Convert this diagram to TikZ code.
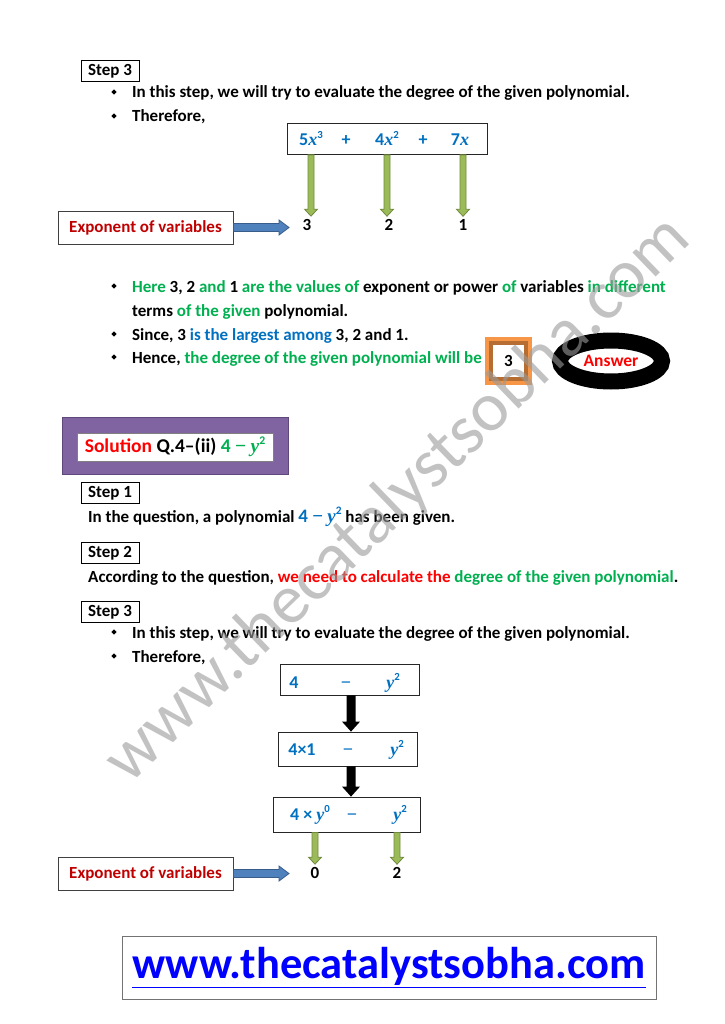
\documentclass[tikz,border=0pt]{standalone}
\usepackage{fontspec}
\usepackage{graphicx}
\setmainfont{Carlito}
\newfontfamily\mvarf{Liberation Serif}
\usetikzlibrary{shapes.geometric,calc}
\definecolor{tgreen}{HTML}{00B050}
\definecolor{tblue}{HTML}{0070C0}
\definecolor{tred}{HTML}{FF0000}
\definecolor{dred}{HTML}{C00000}
\definecolor{purp}{HTML}{8064A2}
\definecolor{purpd}{HTML}{5F497A}
\definecolor{agreen}{HTML}{9BBB59}
\definecolor{agreend}{HTML}{71893F}
\definecolor{ablue}{HTML}{4F81BD}
\definecolor{ablued}{HTML}{385D8A}
\definecolor{orng}{HTML}{F79646}
\definecolor{orngd}{HTML}{B66D31}
\definecolor{wmgray}{HTML}{9A9A9A}
\definecolor{webblue}{HTML}{0000FF}
\newcommand\sq[1]{\raisebox{0.42em}{\scalebox{0.6}{#1}}}
\newcommand\vv[1]{{\mvarf\bfseries\itshape #1}}
\newcommand\mm{{\mvarf\bfseries −}}
% vertical green block arrow
\newcommand\garr[2]{\filldraw[fill=agreen,draw=agreend,line width=0.8pt] let \p1=(#1), \p2=(#2) in
  (\x1-3pt,\y1) -- (\x1-3pt,\y2+10pt) -- (\x1-6.5pt,\y2+10pt) -- (\x1,\y2+3pt) -- (\x1+6.5pt,\y2+10pt) -- (\x1+3pt,\y2+10pt) -- (\x1+3pt,\y1) -- cycle;}
% vertical black block arrow
\newcommand\karr[2]{\fill[black] let \p1=(#1), \p2=(#2) in
  (\x1-4.5pt,\y1) -- (\x1-4.5pt,\y2+10pt) -- (\x1-9pt,\y2+10pt) -- (\x1,\y2) -- (\x1+9pt,\y2+10pt) -- (\x1+4.5pt,\y2+10pt) -- (\x1+4.5pt,\y1) -- cycle;}
% horizontal blue block arrow
\newcommand\barr[2]{\filldraw[fill=ablue,draw=ablued,line width=0.8pt] let \p1=(#1), \p2=(#2) in
  (\x1,\y1+4pt) -- (\x2-10pt,\y1+4pt) -- (\x2-10pt,\y1+7.5pt) -- (\x2,\y1) -- (\x2-10pt,\y1-7.5pt) -- (\x2-10pt,\y1-4pt) -- (\x1,\y1-4pt) -- cycle;}
\tikzset{
  txt/.style={font=\fontsize{17}{19}\selectfont\bfseries, inner sep=0, anchor=base west},
  stepbox/.style={draw=black, line width=0.8pt, minimum width=58pt, minimum height=21pt, inner sep=0, font=\fontsize{17}{19}\selectfont\bfseries},
  bul/.style={diamond, fill=black, inner sep=0, minimum size=5.5pt},
  expbox/.style={draw=black!75, line width=0.8pt, minimum width=175pt, minimum height=33pt, inner sep=0, text=dred, font=\fontsize{17}{19}\selectfont\bfseries},
  mbox/.style={draw=black!85, line width=0.8pt, inner sep=0},
  mth/.style={text=tblue, font=\fontsize{18}{20}\selectfont\bfseries, inner sep=0, anchor=base},
  num/.style={font=\fontsize{17}{19}\selectfont\bfseries, inner sep=0},
}
\begin{document}
\begin{tikzpicture}[x=1pt,y=-1pt]
\useasboundingbox (0,0) rectangle (724,1024);
\fill[white] (0,0) rectangle (724,1024);

% ---------- top Step 3 ----------
\node[stepbox] (s3a) at (110,71) {Step 3};
\node[bul] (b1) at (114,92) {};
\node[txt] (l1) at (132,98) {In this step, we will try to evaluate the degree of the given polynomial.};
\node[bul] (b2) at (114,116) {};
\node[txt] (l2) at (132,122) {Therefore,};

\node[mbox, minimum width=200pt, minimum height=31pt] (poly) at (387,139) {};
\node[mth] (t1) at (311,146) {5\vv{x}\sq{3}};
\node[mth] (p1) at (346,146) {+};
\node[mth] (t2) at (387,146) {4\vv{x}\sq{2}};
\node[mth] (p2) at (423,146) {+};
\node[mth] (t3) at (460,146) {7\vv{x}};

\node[expbox] (exp1) at (145.5,227.5) {Exponent of variables};
\node[num] (n3) at (307,225) {3};
\node[num] (n2) at (389,225) {2};
\node[num] (n1) at (463,225) {1};
\coordinate (bt1) at (289,227.5);
\barr{exp1.east}{bt1}
\garr{poly.south -| t1}{n3.north}
\garr{poly.south -| t2}{n2.north}
\garr{poly.south -| n1}{n1.north}

% ---------- conclusions ----------
\node[bul] (b3) at (114,286) {};
\node[txt] (l3) at (132,292) {\textcolor{tgreen}{Here} 3, 2 \textcolor{tgreen}{and} 1 \textcolor{tgreen}{are the values of} exponent or power \textcolor{tgreen}{of} variables \textcolor{tgreen}{in different}};
\node[txt] (l4) at (132,316) {terms \textcolor{tgreen}{of the given} polynomial.};
\node[bul] (b4) at (114,334) {};
\node[txt] (l5) at (132,340) {Since, 3 \textcolor{tblue}{is the largest among} 3, 2 and 1.};
\node[bul] (b5) at (114,357) {};
\node[txt] (l6) at (132,363) {Hence, \textcolor{tgreen}{the degree of the given polynomial will be}};

\node[draw=orngd, line width=6pt, minimum width=37pt, minimum height=38pt, inner sep=0, font=\fontsize{17}{19}\selectfont\bfseries] (deg) at (508.5,361) {3};
\draw[orng, line width=3.5pt] (deg.south west) rectangle (deg.north east);
\node[ellipse, draw=black, line width=16pt, minimum width=102pt, minimum height=41pt, inner sep=0, text=tred, font=\fontsize{17.5}{19}\selectfont\bfseries] (ans) at (611,361) {Answer};

% ---------- Solution Q.4-(ii) ----------
\node[fill=purp, draw=purpd, line width=1pt, minimum width=226pt, minimum height=57pt, inner sep=0] (sol) at (175.5,446) {};
\node[fill=white, draw=black!50, line width=0.6pt, minimum width=196pt, minimum height=28pt, inner sep=0, font=\fontsize{19.5}{21}\selectfont\bfseries] (solt) at (175,447)
  {\textcolor{tred}{Solution} Q.4–(ii) \textcolor{tgreen}{4 \mm{} \vv{y}\sq{2}}};

\node[stepbox] (s1) at (110,493) {Step 1};
\node[txt] (l7) at (88,522) {In the question, a polynomial \textcolor{tblue}{\fontsize{19}{21}\selectfont 4 \mm{} \vv{y}\sq{2}} has been given.};
\node[stepbox] (s2) at (110,553) {Step 2};
\node[txt] (l8) at (88,582) {According to the question, \textcolor{tred}{we need to calculate the} \textcolor{tgreen}{degree of the given polynomial}.};
\node[stepbox] (s3b) at (110,612) {Step 3};
\node[bul] (b6) at (114,632) {};
\node[txt] (l9) at (132,638) {In this step, we will try to evaluate the degree of the given polynomial.};
\node[bul] (b7) at (114,656) {};
\node[txt] (l10) at (132,662) {Therefore,};

% chain of boxes
\node[mbox, minimum width=139pt, minimum height=31pt] (A) at (349.5,679.5) {};
\node[mth] (a1) at (294,688) {4};
\node[mth] (a2) at (346,688) {\mm};
\node[mth] (a3) at (393,688) {\vv{y}\sq{2}};
\node[mbox, minimum width=139pt, minimum height=34pt] (B) at (347.5,749) {};
\node[mth] (bb1) at (302,755.5) {4×1};
\node[mth] (bb2) at (348,755.5) {\mm};
\node[mth] (bb3) at (397,755.5) {\vv{y}\sq{2}};
\node[mbox, minimum width=147pt, minimum height=35pt] (C) at (346.5,814.5) {};
\node[mth] (c1) at (310,820) {4 × \vv{y}\sq{0}};
\node[mth] (c2) at (352,820) {\mm};
\node[mth] (c3) at (400,820) {\vv{y}\sq{2}};
\karr{A.south -| 351,0}{B.north}
\karr{B.south -| 351,0}{C.north}

\node[expbox] (exp2) at (145.5,873.5) {Exponent of variables};
\node[num] (z0) at (315,873) {0};
\node[num] (z2) at (397,873) {2};
\coordinate (bt2) at (289,872.5);
\barr{exp2.east}{bt2}
\garr{C.south -| z0}{z0.north}
\garr{C.south -| z2}{z2.north}

% ---------- website ----------
\node[draw=black!55, line width=1pt, minimum width=534pt, minimum height=63pt, inner sep=0, text=webblue, font=\fontsize{44.5}{48}\selectfont\bfseries] (web) at (389,967.5) {\underline{www.thecatalystsobha.com}};

% ---------- watermark ----------
\node[rotate=44, text=wmgray, text opacity=0.6, font=\fontsize{70}{72}\selectfont, inner sep=0] (wm) at (398,500) {www.thecatalystsobha.com};
\end{tikzpicture}
\end{document}
